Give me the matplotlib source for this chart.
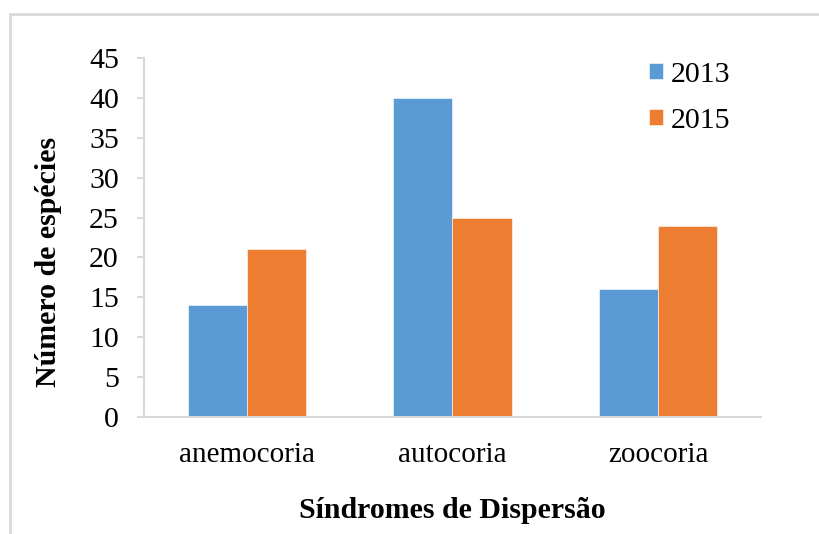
import numpy as np
import matplotlib.pyplot as plt
from matplotlib.patches import Rectangle

categorias = ['anemocoria', 'autocoria', 'zoocoria']
anos = ['2013', '2015']
especies_2013 = [14, 40, 16]
especies_2015 = [21, 25, 24]
cores = ['#5B9BD5', '#ED7D31']

plt.rcParams['font.family'] = ['Liberation Serif', 'DejaVu Serif']

fig = plt.figure(figsize=(8.2, 5.34), dpi=100)
ax = fig.add_axes([144 / 820, 1 - 417 / 534, 617 / 820, 359 / 534])

# moldura cinza do gráfico
fig.patches.append(Rectangle((10 / 820, -0.1), 1.1, 1 - 14 / 534 + 0.1,
                             transform=fig.transFigure, fill=False,
                             edgecolor='#d9d9d9', linewidth=2))

x = np.arange(len(categorias))
largura = 0.287
ax.bar(x - largura / 2, especies_2013, largura, color=cores[0], label=anos[0],
       edgecolor='white', linewidth=0.4)
ax.bar(x + largura / 2, especies_2015, largura, color=cores[1], label=anos[1],
       edgecolor='white', linewidth=0.4)

ax.set_xlim(-0.5, 2.5)
ax.set_ylim(0, 45)
ax.set_yticks(range(0, 46, 5))
ax.set_xticks(x)
ax.set_xticklabels(categorias)

for lado in ['top', 'right']:
    ax.spines[lado].set_visible(False)
for lado in ['left', 'bottom']:
    ax.spines[lado].set_color('#d9d9d9')
    ax.spines[lado].set_linewidth(1.5)

ax.tick_params(axis='y', length=5, width=1.5, color='#d9d9d9', labelsize=21.5, pad=13)
ax.tick_params(axis='x', length=0, labelsize=21, pad=18)

ax.set_xlabel('Síndromes de Dispersão', fontsize=21.5, fontweight='bold', labelpad=21)
ax.set_ylabel('Número de espécies', fontsize=21.5, fontweight='bold')
ax.yaxis.set_label_coords(-0.133, 0.432)

ax.legend(loc='upper left', bbox_to_anchor=(0.775, 1.065), frameon=False,
          fontsize=21.5, handlelength=0.47, handleheight=0.47, handletextpad=0.25,
          labelspacing=0.68)

fig.savefig('out.png', dpi=100)
